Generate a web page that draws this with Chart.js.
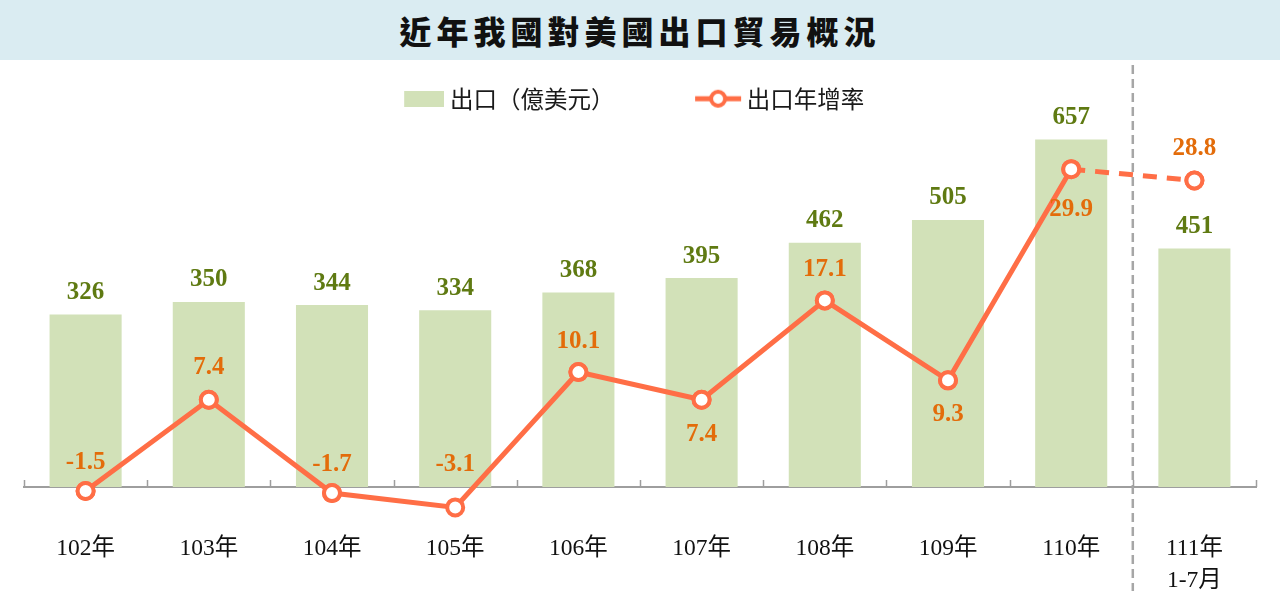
<!DOCTYPE html>
<html>
<head>
<meta charset="utf-8">
<script src="https://cdn.jsdelivr.net/npm/chart.js@4/dist/chart.umd.min.js"></script>
<style>
  html, body { margin: 0; padding: 0; background: #fff; }
  body { width: 1280px; height: 609px; position: relative; overflow: hidden; }
  .banner {
    position: absolute; left: 0; top: 0; width: 1280px; height: 60px;
    background: #daecf2;
    font-family: "Noto Sans CJK TC", sans-serif; font-weight: 900;
    font-size: 32px; letter-spacing: 5px; color: #111;
    text-align: center; line-height: 60px;
  }
  .wrap { position: absolute; left: 0; top: 60px; width: 1280px; height: 549px; }
</style>
</head>
<body>
<div class="banner">近年我國對美國出口貿易概況</div>
<div class="wrap"><canvas id="chart" width="1280" height="549"></canvas></div>
<script>
// data
const categories = ['102年', '103年', '104年', '105年', '106年', '107年', '108年', '109年', '110年', ['111年', '1-7月']];
const exportValues = [326, 350, 344, 334, 368, 395, 462, 505, 657, 451];
const growthRates = [-1.5, 7.4, -1.7, -3.1, 10.1, 7.4, 17.1, 9.3, 29.9, 28.8];

// label placement for the rate labels (px from the point, minus = above)
const rateLabelOffset = [-28, -32, -29, -43, -31, 35, -31, 34, 40, -32];

const barColor = '#d2e1b8'
const lineColor = '#ff6e46'
const cjk = '"Liberation Serif", "Noto Sans CJK TC", serif'

// legend symbols, drawn toward the right so the text sits close
function barIcon() {
  const c = document.createElement('canvas')
  c.width = 58; c.height = 16
  const g = c.getContext('2d')
  g.fillStyle = barColor
  g.fillRect(18, 0, 40, 16)
  return c
}
function lineIcon() {
  const c = document.createElement('canvas')
  c.width = 62; c.height = 24
  const g = c.getContext('2d')
  g.strokeStyle = lineColor
  g.lineWidth = 5
  g.beginPath(); g.moveTo(14, 12); g.lineTo(60, 12); g.stroke()
  g.fillStyle = '#fff'
  g.lineWidth = 4
  g.beginPath(); g.arc(37, 12, 7, 0, Math.PI * 2); g.fill(); g.stroke()
  return c
}
const legendIcons = [barIcon(), lineIcon()]

// points under the axis fall outside the chart area, draw them anyway
const loosePoints = {
  id: 'loosePoints',
  afterDatasetsDraw(chart) {
    const whole = { left: 0, top: 0, right: chart.width, bottom: chart.height }
    chart.getDatasetMeta(1).data.forEach(pt => pt.draw(chart.ctx, whole))
  }
}

const valueLabels = {
  id: 'valueLabels',
  afterDatasetsDraw(chart) {
    const ctx = chart.ctx
    ctx.save()
    ctx.textAlign = 'center'
    ctx.textBaseline = 'middle'
    ctx.font = 'bold 25px "Liberation Serif", serif'
    ctx.fillStyle = '#5f7a12'
    chart.getDatasetMeta(0).data.forEach((bar, i) => {
      ctx.fillText(String(exportValues[i]), bar.x, bar.y - 22)
    })
    ctx.fillStyle = '#e36c0a'
    chart.getDatasetMeta(1).data.forEach((pt, i) => {
      ctx.fillText(growthRates[i].toFixed(1), pt.x, pt.y + rateLabelOffset[i])
    })
    ctx.restore()
  }
}

const axisDecor = {
  id: 'axisDecor',
  beforeDatasetsDraw(chart) {
    const ctx = chart.ctx
    const x = chart.scales.x
    // dashed separator before the partial year
    const sx = (x.getPixelForValue(8) + x.getPixelForValue(9)) / 2
    ctx.save()
    ctx.strokeStyle = '#a6a6a6'
    ctx.lineWidth = 2.5
    ctx.setLineDash([9, 5])
    ctx.beginPath()
    ctx.moveTo(sx, 5)
    ctx.lineTo(sx, 531)
    ctx.stroke()
    ctx.restore()
  },
  afterDraw(chart) {
    const ctx = chart.ctx
    const x = chart.scales.x
    const area = chart.chartArea
    const step = (x.right - x.left) / categories.length
    ctx.save()
    ctx.strokeStyle = '#9e9e9e'
    ctx.lineWidth = 1.5
    for (let i = 0; i <= categories.length; i++) {
      const px = Math.round(x.left + i * step) + 0.5
      ctx.beginPath()
      ctx.moveTo(px, area.bottom)
      ctx.lineTo(px, area.bottom - 7)
      ctx.stroke()
    }
    ctx.restore()
  }
}

new Chart(document.getElementById('chart'), {
  type: 'bar',
  data: {
    labels: categories,
    datasets: [{
        label: '出口（億美元）',
        type: 'bar',
        data: exportValues,
        backgroundColor: barColor,
        barPercentage: 0.585,
        categoryPercentage: 1,
        yAxisID: 'y',
        order: 2
      }, {
        label: '出口年增率',
        type: 'line',
        data: growthRates,
        borderColor: lineColor,
        borderWidth: 5,
        pointRadius: 8,
        pointBorderWidth: 4,
        pointBackgroundColor: '#fff',
        pointBorderColor: lineColor,
        clip: false,
        segment: {
          borderDash: ctx => ctx.p0DataIndex === 8 ? [14, 10] : undefined
        },
        yAxisID: 'y1',
        order: 1
      }
    ]
  },
  options: {
    responsive: false,
    animation: false,
    layout: { padding: { left: 24, right: 24, top: 11, bottom: 12 } },
    scales: {
      x: {
        grid: { display: false, drawTicks: false },
        border: { display: true, color: '#9e9e9e', width: 2 },
        ticks: {
          padding: 46,
          color: '#111',
          font: { family: cjk, size: 23.5, lineHeight: 1.36 },
          maxRotation: 0,
          autoSkip: false
        },
        afterFit: scale => { scale.height = 110 }
      },
      y: { display: false, min: 0, max: 693 },
      y1: { display: false, min: -1.108, max: 34.65 }
    },
    plugins: {
      tooltip: { enabled: false },
      legend: {
        labels: {
          usePointStyle: true,
          pointStyleWidth: 46,
          boxHeight: 16,
          padding: 16,
          color: '#1a1a1a',
          font: { family: '"Noto Sans CJK TC", sans-serif', size: 23.5 },
          generateLabels(chart) {
            return chart.data.datasets.map((ds, i) => ({
              text: ds.label + (i === 0 ? '\u3000\u3000\u3000' : '\u3000'),
              pointStyle: legendIcons[i],
              datasetIndex: i,
              hidden: false,
              fontColor: '#1a1a1a',
              lineWidth: 0,
              strokeStyle: 'rgba(0,0,0,0)',
              fillStyle: 'rgba(0,0,0,0)'
            }))
          }
        }
      }
    }
  },
  plugins: [loosePoints, valueLabels, axisDecor]
});
</script>
</body>
</html>
